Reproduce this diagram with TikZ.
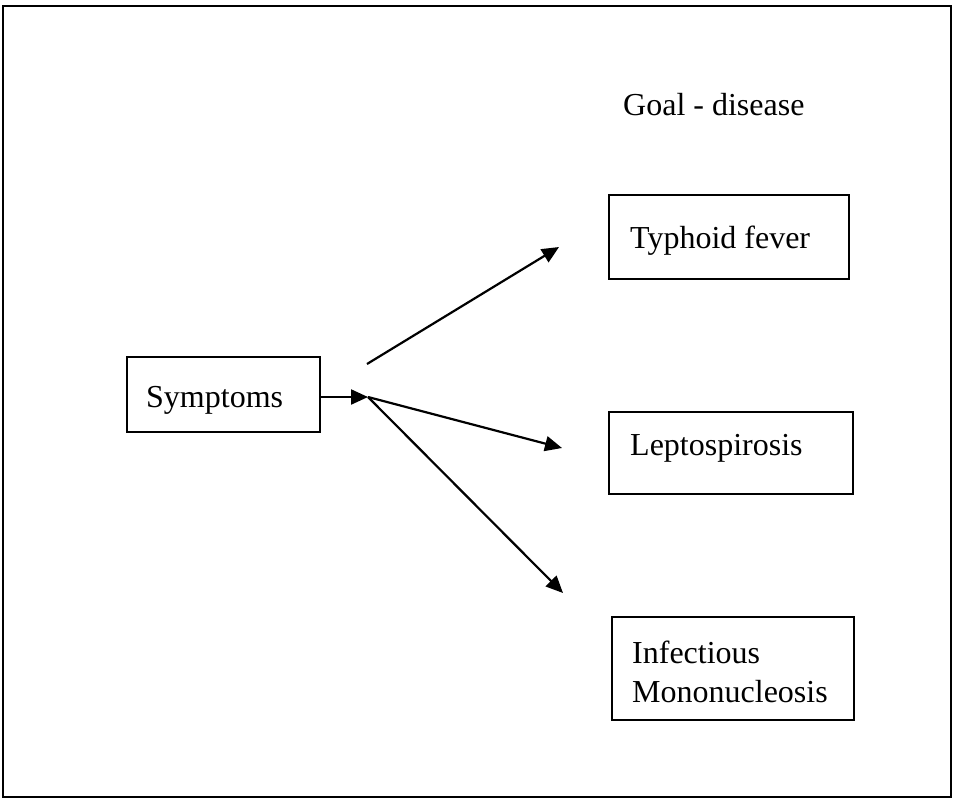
\documentclass[tikz,border=0pt]{standalone}
\usepackage{fontspec}
\setmainfont{Liberation Serif}
\usetikzlibrary{arrows.meta}
\begin{document}
\begin{tikzpicture}[x=1pt,y=-1pt,
  box/.style={draw, line width=2.2pt, inner sep=0pt},
  lbl/.style={inner sep=0pt, anchor=base west, font=\fontsize{32}{39}\selectfont},
  arr/.style={line width=2.2pt, -{Triangle[length=17pt,width=15pt]}}]
\useasboundingbox (0,0) rectangle (953,804);
% outer frame
\draw[line width=2.4pt] (3,6) rectangle (951,797);
% boxes
\node[box, minimum width=193pt, minimum height=75pt] (symp) at (223.5,394.5) {};
\node[lbl] (symptxt) at (146,407) {Symptoms};
\node[box, minimum width=240pt, minimum height=84pt] (typh) at (729,237) {};
\node[lbl] (typhtxt) at (630,248) {Typhoid fever};
\node[box, minimum width=244pt, minimum height=82pt] (lept) at (731,453) {};
\node[lbl] (lepttxt) at (630,455) {Leptospirosis};
\node[box, minimum width=242pt, minimum height=103pt] (infe) at (733,668.5) {};
\node[lbl, align=left] (infetxt) at (632,702) {Infectious\\Mononucleosis};
\node[lbl] (goal) at (623,115) {Goal - disease};
% connectors
\coordinate (hub) at (368,397);
\coordinate (upstart) at (367,364);
\coordinate (tiptyph) at (559,247);
\coordinate (tiplept) at (562,448);
\coordinate (tipinfe) at (563,593);
\draw[arr] (symp.east |- hub) -- (hub);
\draw[arr] (upstart) -- (tiptyph);
\draw[arr] (hub) -- (tiplept);
\draw[arr] (hub) -- (tipinfe);
\end{tikzpicture}
\end{document}
